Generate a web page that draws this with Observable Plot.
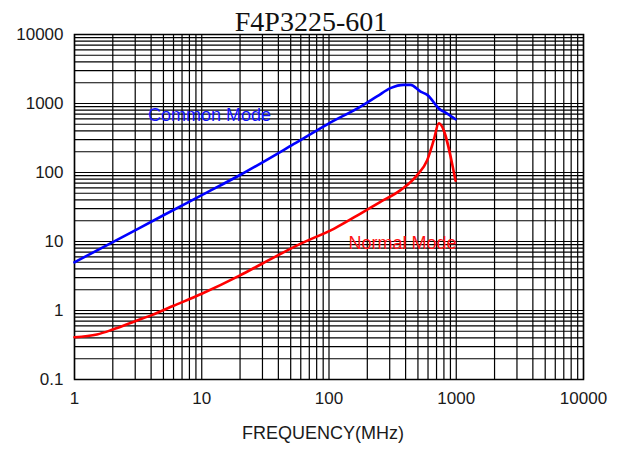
<!DOCTYPE html>
<html>
<head>
<meta charset="utf-8">
<script src="https://cdn.jsdelivr.net/npm/d3@7"></script>
<script src="https://cdn.jsdelivr.net/npm/@observablehq/plot@0.6"></script>
<style>
  html, body { margin: 0; padding: 0; background: #fff; }
</style>
</head>
<body>
<div id="chart"></div>
<script>
// Common Mode impedance (blue)
const cmFreq  = [1, 2, 5, 10, 20, 53, 97, 177, 240, 304, 387, 437, 524, 591, 752, 799, 987];
const cmValue = [5, 9.8, 24, 47, 92, 259, 500, 902, 1276, 1668, 1862, 1862, 1489, 1334, 807, 762, 590];

// Normal Mode impedance (red)
const nmFreq  = [1, 1.5, 2, 3, 4, 6, 10, 20, 30, 60, 110, 177, 250, 365, 493, 591, 666, 729, 987];
const nmValue = [0.41, 0.45, 0.53, 0.70, 0.85, 1.17, 1.75, 3.23, 4.8, 9.3, 15.4, 25.4, 37, 55.5, 91.7, 151, 296, 517, 76];

// Tick labels
const xTicks = [1, 10, 100, 1000, 10000];
const yTicks = [0.1, 1, 10, 100, 1000, 10000];

// Series labels
const labelText = ["Common Mode", "Normal Mode"];
const labelFreq = [3.78, 142];
const labelVal  = [683, 9.4];
const labelColor = ["#1414ff", "#ff1414"];

const titleText = "F4P3225-601";
const xLabel = "FREQUENCY(MHz)";

// log grid lines: 1..9 per decade
const gridX = [];
for (let d = 1; d < 10000; d *= 10) for (let k = 1; k <= 9; k++) gridX.push(d * k);
gridX.push(10000);
const gridY = [];
for (let d = 0.1; d < 10000; d *= 10) for (let k = 1; k <= 9; k++) gridY.push(+(d * k).toPrecision(6));
gridY.push(10000);

const cm = cmFreq.map((f, i) => ({f, v: cmValue[i]}));
const nm = nmFreq.map((f, i) => ({f, v: nmValue[i]}));
const labels = labelText.map((t, i) => ({t, f: labelFreq[i], v: labelVal[i], c: labelColor[i]}));

const fmt = d => String(d);

const chart = Plot.plot({
  width: 621,
  height: 449,
  marginLeft: 74,
  marginRight: 38,
  marginTop: 34,
  marginBottom: 70,
  style: {fontFamily: "'Liberation Sans', Arial, sans-serif", background: "#fff", color: "#1a1a1a"},
  x: {type: "log", domain: [1, 10000]},
  y: {type: "log", domain: [0.1, 10000]},
  marks: [
    Plot.ruleX(gridX, {stroke: "#000", strokeWidth: 1.2}),
    Plot.ruleY(gridY, {stroke: "#000", strokeWidth: 1.2}),
    Plot.frame({stroke: "#000", strokeWidth: 1.5}),
    Plot.line(cm, {x: "f", y: "v", stroke: "#0000ff", strokeWidth: 2.6, curve: "monotone-x"}),
    Plot.line(nm, {x: "f", y: "v", stroke: "#ff0000", strokeWidth: 2.6, curve: "monotone-x"}),
    Plot.text(labels, {x: "f", y: "v", text: "t", fill: "c", fontSize: 18, textAnchor: "start"}),
    Plot.axisX({ticks: xTicks, tickFormat: fmt, tickSize: 0, tickPadding: 12, fontSize: 17, label: null}),
    Plot.axisY({ticks: yTicks, tickFormat: fmt, tickSize: 0, tickPadding: 11, fontSize: 17, label: null}),
    Plot.text([titleText], {frameAnchor: "top", lineAnchor: "bottom", dy: -4, dx: -18, fontSize: 28, fontFamily: "'Liberation Serif', 'Times New Roman', serif", fill: "#111"}),
    Plot.text([xLabel], {frameAnchor: "bottom", lineAnchor: "middle", dy: 54, dx: -6, fontSize: 18, fill: "#1a1a1a"})
  ]
});
document.getElementById("chart").appendChild(chart);
</script>
</body>
</html>
